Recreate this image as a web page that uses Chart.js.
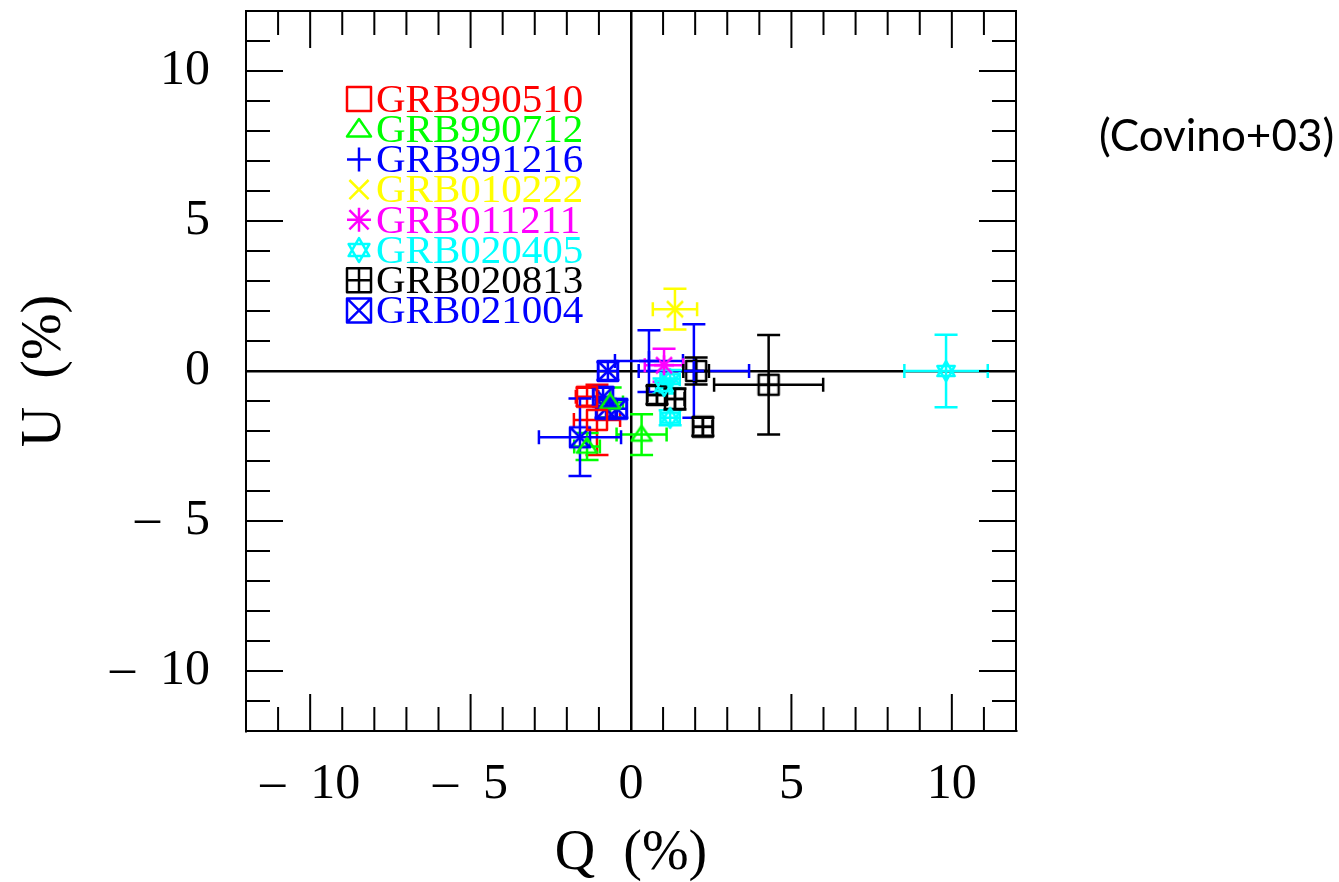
<!DOCTYPE html>
<html>
<head>
<meta charset="utf-8">
<script src="https://cdn.jsdelivr.net/npm/chart.js@4"></script>
<style>
  html, body { margin: 0; background: #fff; }
  #wrap { width: 1339px; height: 882px; }
</style>
</head>
<body>
<div id="wrap"><canvas id="myChart"></canvas></div>
<script>
// Q/U polarization values (%), with 1-sigma errors
const grbNames = ['GRB990510', 'GRB990712', 'GRB991216', 'GRB010222',
                  'GRB011211', 'GRB020405', 'GRB020813', 'GRB021004'];
const grbColors = ['#ff0000', '#00ff00', '#0000ff', '#ffff00',
                   '#ff00ff', '#00ffff', '#000000', '#0000ff'];
const grbMarkers = ['square', 'triangle', 'plus', 'cross',
                    'asterisk', 'hexagram', 'boxplus', 'boxcross'];

const grb990510Q = [-1.37, -1.06];
const grb990510U = [-0.86, -1.63];
const grb990510dQ = [0.35, 0.72];
const grb990510dU = [0.30, 1.17];

const grb990712Q = [0.33, -1.37, -0.65];
const grb990712U = [-2.12, -2.52, -1.05];
const grb990712dQ = [0.78, 0.40, 0.40];
const grb990712dU = [0.68, 0.45, 0.50];

const grb991216Q = [1.96, 0.56];
const grb991216U = [0.00, 0.33];
const grb991216dQ = [1.72, 1.06];
const grb991216dU = [1.56, 1.03];

const grb010222Q = [1.37];
const grb010222U = [2.06];
const grb010222dQ = [0.69];
const grb010222dU = [0.68];

const grb011211Q = [1.03];
const grb011211U = [0.19];
const grb011211dQ = [0.60];
const grb011211dU = [0.55];

const grb020405Q = [9.82, 1.22, 1.22, 1.03];
const grb020405U = [0.00, -0.27, -1.56, -0.50];
const grb020405dQ = [1.30, 0.30, 0.30, 0.25];
const grb020405dU = [1.21, 0.30, 0.25, 0.25];

const grb020813Q = [2.03, 4.29, 0.81, 1.37, 2.24];
const grb020813U = [0.00, -0.46, -0.80, -0.93, -1.86];
const grb020813dQ = [0.40, 1.70, 0.30, 0.30, 0.30];
const grb020813dU = [0.45, 1.66, 0.30, 0.35, 0.30];

const grb021004Q = [-0.72, -1.59, -0.87, -0.78, -0.44];
const grb021004U = [0.00, -2.21, -0.86, -1.26, -1.26];
const grb021004dQ = [0.30, 1.28, 0.30, 0.30, 0.30];
const grb021004dU = [0.30, 1.29, 0.30, 0.30, 0.30];

const allQ = [grb990510Q, grb990712Q, grb991216Q, grb010222Q, grb011211Q, grb020405Q, grb020813Q, grb021004Q];
const allU = [grb990510U, grb990712U, grb991216U, grb010222U, grb011211U, grb020405U, grb020813U, grb021004U];
const alldQ = [grb990510dQ, grb990712dQ, grb991216dQ, grb010222dQ, grb011211dQ, grb020405dQ, grb020813dQ, grb021004dQ];
const alldU = [grb990510dU, grb990712dU, grb991216dU, grb010222dU, grb011211dU, grb020405dU, grb020813dU, grb021004dU];

const axisMin = -12;
const axisMax = 12;
const labelTicks = [-10, -5, 0, 5, 10];

function drawMarker(c, style, x, y, r) {
  c.beginPath();
  if (style === 'square' || style === 'boxplus' || style === 'boxcross') {
    c.rect(x - r, y - r, 2 * r, 2 * r);
  }
  if (style === 'triangle') {
    c.moveTo(x, y - r * 0.85);
    c.lineTo(x + r, y + r * 0.6);
    c.lineTo(x - r, y + r * 0.6);
    c.closePath();
  }
  if (style === 'plus' || style === 'asterisk' || style === 'boxplus') {
    c.moveTo(x - r, y); c.lineTo(x + r, y);
    c.moveTo(x, y - r); c.lineTo(x, y + r);
  }
  if (style === 'cross' || style === 'asterisk' || style === 'boxcross') {
    const d = style === 'boxcross' ? r : r * 0.8;
    c.moveTo(x - d, y - d); c.lineTo(x + d, y + d);
    c.moveTo(x - d, y + d); c.lineTo(x + d, y - d);
  }
  if (style === 'hexagram') {
    for (let k = 0; k < 2; k++) {
      const a0 = k === 0 ? -Math.PI / 2 : Math.PI / 2;
      for (let j = 0; j < 3; j++) {
        const a = a0 + j * 2 * Math.PI / 3;
        const px = x + r * Math.cos(a), py = y + r * Math.sin(a);
        if (j === 0) c.moveTo(px, py); else c.lineTo(px, py);
      }
      c.closePath();
    }
  }
  c.stroke();
}

function markerCanvas(style, color, r) {
  const cv = document.createElement('canvas');
  const s = 2 * r + 6;
  cv.width = s; cv.height = s;
  const c = cv.getContext('2d');
  c.strokeStyle = color;
  c.lineWidth = 2.5;
  c.lineJoin = 'round';
  drawMarker(c, style, s / 2, s / 2, r);
  return cv;
}

const datasets = grbNames.map((name, i) => ({
  label: name,
  data: allQ[i].map((q, j) => ({ x: q, y: allU[i][j] })),
  errQ: alldQ[i],
  errU: alldU[i],
  borderColor: grbColors[i],
  backgroundColor: grbColors[i],
  pointStyle: markerCanvas(grbMarkers[i], grbColors[i], 10),
  pointRadius: 10,
  pointHoverRadius: 10,
  showLine: false
}));

// error bars, drawn under the markers
const errorBars = {
  id: 'errorBars',
  beforeDatasetsDraw(chart) {
    const { ctx, chartArea, scales: { x, y } } = chart;
    ctx.save();
    ctx.beginPath();
    ctx.rect(chartArea.left, chartArea.top, chartArea.width, chartArea.height);
    ctx.clip();
    ctx.lineWidth = 2.5;
    chart.data.datasets.forEach(ds => {
      ctx.strokeStyle = ds.borderColor;
      ds.data.forEach((p, j) => {
        const px = x.getPixelForValue(p.x), py = y.getPixelForValue(p.y);
        const x1 = x.getPixelForValue(p.x - ds.errQ[j]), x2 = x.getPixelForValue(p.x + ds.errQ[j]);
        const y1 = y.getPixelForValue(p.y - ds.errU[j]), y2 = y.getPixelForValue(p.y + ds.errU[j]);
        ctx.beginPath();
        ctx.moveTo(x1, py); ctx.lineTo(x2, py);
        ctx.moveTo(x1, py - 7); ctx.lineTo(x1, py + 7);
        ctx.moveTo(x2, py - 7); ctx.lineTo(x2, py + 7);
        ctx.moveTo(px, y1); ctx.lineTo(px, y2);
        ctx.moveTo(px - 11.5, y1); ctx.lineTo(px + 11.5, y1);
        ctx.moveTo(px - 11.5, y2); ctx.lineTo(px + 11.5, y2);
        ctx.stroke();
      });
    });
    ctx.restore();
  }
};

// box with inward ticks on all four sides, like the pgplot frame
const frame = {
  id: 'frame',
  afterDatasetsDraw(chart) {
    const { ctx, chartArea: a, scales: { x, y } } = chart;
    ctx.save();
    ctx.strokeStyle = '#000';
    ctx.lineWidth = 2;
    ctx.strokeRect(a.left, a.top, a.width, a.height);
    ctx.beginPath();
    for (let v = axisMin + 1; v < axisMax; v++) {
      const len = v % 5 === 0 ? 37 : 24;
      const px = x.getPixelForValue(v);
      ctx.moveTo(px, a.bottom); ctx.lineTo(px, a.bottom - len);
      ctx.moveTo(px, a.top); ctx.lineTo(px, a.top + len);
      const py = y.getPixelForValue(v);
      ctx.moveTo(a.left, py); ctx.lineTo(a.left + len, py);
      ctx.moveTo(a.right, py); ctx.lineTo(a.right - len, py);
    }
    ctx.stroke();

    // legend inside the plot
    ctx.textAlign = 'left';
    ctx.textBaseline = 'middle';
    ctx.font = '41px "Liberation Serif"';
    ctx.lineWidth = 2.5;
    ctx.lineJoin = 'round';
    chart.data.datasets.forEach((ds, i) => {
      const ly = a.top + 88 + i * 30.2;
      ctx.strokeStyle = ds.borderColor;
      drawMarker(ctx, grbMarkers[i], a.left + 113, ly, 12);
      ctx.fillStyle = ds.borderColor;
      ctx.fillText(ds.label, a.left + 130, ly + 2);
    });

    ctx.fillStyle = '#000';
    ctx.font = '44px Lato';
    ctx.fillText('(Covino+03)', 1099, 137);
    ctx.restore();
  }
};

function tickLabel(v) {
  return v < 0 ? '\u2013\u2002' + Math.abs(v) : String(v);
}

function zeroLine(c) {
  return c.tick && c.tick.value === 0 ? '#000' : 'rgba(0,0,0,0)';
}

const serif = 'Liberation Serif';

new Chart(document.getElementById('myChart'), {
  type: 'scatter',
  data: { datasets: datasets },
  options: {
    responsive: true,
    maintainAspectRatio: false,
    animation: false,
    layout: { padding: { top: 8, right: 323, left: 0, bottom: 0 } },
    plugins: {
      legend: { display: false },
      tooltip: { enabled: false }
    },
    scales: {
      x: {
        type: 'linear',
        min: axisMin,
        max: axisMax,
        afterBuildTicks: s => { s.ticks = labelTicks.map(v => ({ value: v })); },
        afterFit: s => { s.height = 151; s.paddingLeft = 0; s.paddingRight = 0; },
        grid: { color: zeroLine, lineWidth: 2.5, drawTicks: false },
        border: { display: true, color: '#000', width: 2 },
        ticks: {
          color: '#000',
          padding: 24,
          maxRotation: 0,
          font: { family: serif, size: 50 },
          callback: tickLabel
        },
        title: {
          display: true,
          text: 'Q  (%)',
          color: '#000',
          padding: 0,
          font: { family: serif, size: 56, lineHeight: 1 }
        }
      },
      y: {
        type: 'linear',
        min: axisMin,
        max: axisMax,
        afterBuildTicks: s => { s.ticks = labelTicks.map(v => ({ value: v })); },
        afterFit: s => { s.width = 246; s.paddingTop = 0; s.paddingBottom = 0; },
        grid: { color: zeroLine, lineWidth: 2.5, drawTicks: false },
        border: { display: true, color: '#000', width: 2 },
        ticks: {
          color: '#000',
          padding: 36,
          font: { family: serif, size: 50 },
          callback: tickLabel
        },
        title: {
          display: true,
          text: 'U  (%)',
          color: '#000',
          padding: { top: 17, bottom: 17 },
          font: { family: serif, size: 56, lineHeight: 1 }
        }
      }
    }
  },
  plugins: [errorBars, frame]
});
</script>
</body>
</html>
